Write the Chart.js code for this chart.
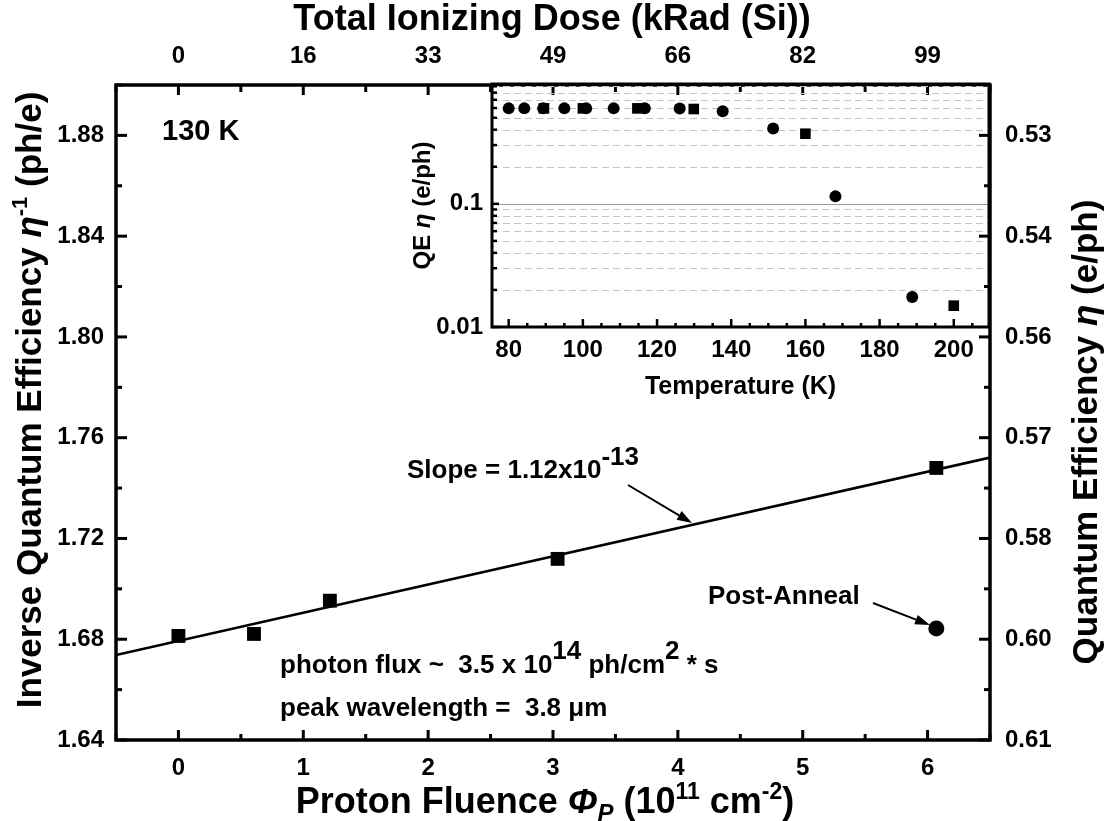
<!DOCTYPE html>
<html>
<head>
<meta charset="utf-8">
<script src="https://cdn.jsdelivr.net/npm/chart.js@4.4.0/dist/chart.umd.min.js"></script>
<style>
body { margin: 0; background: #fff; }
#wrap { position: relative; width: 1107px; height: 821px; }
#mainChart { position: absolute; left: 0; top: 0; }
#insetChart { position: absolute; left: 380px; top: 60px; }
</style>
</head>
<body>
<div id="wrap">
  <canvas id="mainChart" width="1107" height="821"></canvas>
  <canvas id="insetChart" width="620" height="360"></canvas>
</div>
<script>
// main plot: inverse QE vs proton fluence (1e11 cm^-2)
const fluence = [0, 0.605, 1.213, 3.037, 6.07];
const invQE = [1.6813, 1.6821, 1.6953, 1.7119, 1.748];
const annealFluence = [6.07];
const annealInvQE = [1.6843];
const fitFluence = [-0.5, 6.5];
const fitInvQE = [1.6737, 1.7521];
const doseLabels = ['0', '16', '33', '49', '66', '82', '99'];
const qeLabels = ['0.61', '0.60', '0.58', '0.57', '0.56', '0.54', '0.53'];

// inset: QE vs temperature
const tempCircle = [80, 84.2, 89.3, 95, 100.9, 108.3, 116.7, 126.1, 137.7, 151.3, 168.1, 188.8];
const qeCircle = [0.596, 0.596, 0.596, 0.596, 0.596, 0.596, 0.596, 0.594, 0.566, 0.409, 0.115, 0.0175];
const tempSquare = [89.5, 100, 114.7, 129.9, 160, 200];
const qeSquare = [0.596, 0.596, 0.596, 0.589, 0.371, 0.0149];

const FONT = "'Liberation Sans', Arial, Helvetica, sans-serif";
const B = (size, italic) => (italic ? 'italic ' : '') + 'bold ' + size + 'px ' + FONT;

const pts = (xs, ys) => xs.map((x, i) => ({ x: x, y: ys[i] }));
const near = (a, b) => Math.abs(a - b) < 1e-6;

// draw text made of pieces (font / raised or lowered parts)
function drawRich(ctx, parts, x, y, rot, align) {
  ctx.save();
  ctx.translate(x, y);
  ctx.rotate(rot || 0);
  ctx.fillStyle = '#000';
  ctx.textBaseline = 'alphabetic';
  ctx.textAlign = 'left';
  let total = 0;
  parts.forEach(p => { ctx.font = p[1]; total += ctx.measureText(p[0]).width; });
  let cx = align === 'left' ? 0 : -total / 2;
  parts.forEach(p => {
    ctx.font = p[1];
    ctx.fillText(p[0], cx, p[2] || 0);
    cx += ctx.measureText(p[0]).width;
  });
  ctx.restore();
}

function drawArrow(ctx, x1, y1, x2, y2) {
  const a = Math.atan2(y2 - y1, x2 - x1);
  const hl = 15, hw = 5;
  ctx.save();
  ctx.strokeStyle = '#000';
  ctx.fillStyle = '#000';
  ctx.lineWidth = 2;
  ctx.beginPath();
  ctx.moveTo(x1, y1);
  ctx.lineTo(x2 - Math.cos(a) * hl, y2 - Math.sin(a) * hl);
  ctx.stroke();
  ctx.beginPath();
  ctx.moveTo(x2, y2);
  ctx.lineTo(x2 - Math.cos(a) * hl + Math.sin(a) * hw, y2 - Math.sin(a) * hl - Math.cos(a) * hw);
  ctx.lineTo(x2 - Math.cos(a) * hl - Math.sin(a) * hw, y2 - Math.sin(a) * hl + Math.cos(a) * hw);
  ctx.closePath();
  ctx.fill();
  ctx.restore();
}

function tickLine(ctx, x1, y1, x2, y2, w) {
  ctx.lineWidth = w;
  ctx.beginPath();
  ctx.moveTo(x1, y1);
  ctx.lineTo(x2, y2);
  ctx.stroke();
}

// frame, inward ticks, titles and notes of the main plot
const mainDecor = {
  id: 'mainDecor',
  afterDraw(chart) {
    const ctx = chart.ctx;
    const a = chart.chartArea;
    const s = chart.scales;
    ctx.save();
    ctx.strokeStyle = '#000';
    ctx.lineCap = 'butt';

    s.x.ticks.forEach(t => {
      const px = s.x.getPixelForValue(t.value);
      const len = near(t.value, Math.round(t.value)) ? 10 : 6;
      tickLine(ctx, px, a.bottom, px, a.bottom - len, 3);
    });
    s.x2.ticks.forEach(t => {
      const px = s.x2.getPixelForValue(t.value);
      const len = near(t.value, Math.round(t.value)) ? 10 : 7;
      tickLine(ctx, px, a.top, px, a.top + len, 3);
    });
    s.y.ticks.forEach(t => {
      const py = s.y.getPixelForValue(t.value);
      const k = Math.round((t.value - 1.64) / 0.02);
      tickLine(ctx, a.left, py, a.left + (k % 2 === 0 ? 11 : 6), py, 3);
    });
    s.y2.ticks.forEach(t => {
      const py = s.y2.getPixelForValue(t.value);
      const k = Math.round((t.value - 1.64) / 0.02);
      tickLine(ctx, a.right, py, a.right - (k % 2 === 0 ? 11 : 6), py, 3);
    });

    ctx.lineWidth = 3.5;
    ctx.strokeRect(a.left, a.top, a.right - a.left, a.bottom - a.top);
    ctx.restore();

    // axis titles
    drawRich(ctx, [['Proton Fluence ', B(36)], ['\u03A6', B(36, true)], ['P', B(24, true), 8],
      [' (10', B(36)], ['11', B(23), -14], [' cm', B(36)], ['-2', B(23), -14], [')', B(36)]],
      545, 813);
    drawRich(ctx, [['Total Ionizing Dose (kRad (Si))', B(36)]], 552, 30);
    drawRich(ctx, [['Inverse Quantum Efficiency ', B(35)], ['\u03B7', B(35, true)], ['-1', B(22), -14],
      [' (ph/e)', B(35)]], 41, 400, -Math.PI / 2);
    drawRich(ctx, [['Quantum Efficiency ', B(35)], ['\u03B7', B(35, true)], [' (e/ph)', B(35)]],
      1097, 432, -Math.PI / 2);

    // notes
    drawRich(ctx, [['130 K', B(29)]], 162, 140, 0, 'left');
    drawRich(ctx, [['Slope = 1.12x10', B(26)], ['-13', B(26), -13]], 407, 478, 0, 'left');
    drawRich(ctx, [['photon flux ~  3.5 x 10', B(26)], ['14', B(26), -14], [' ph/cm', B(26)],
      ['2', B(26), -14], [' * s', B(26)]], 280, 673, 0, 'left');
    drawRich(ctx, [['peak wavelength =  3.8 \u03BCm', B(26)]], 280, 716, 0, 'left');
    drawRich(ctx, [['Post-Anneal', B(26)]], 708, 604, 0, 'left');
    drawArrow(ctx, 628, 485, 692, 523);
    drawArrow(ctx, 873, 603, 930, 625);
  }
};

const tickFont = { family: FONT, size: 24, weight: 'bold' };

new Chart(document.getElementById('mainChart'), {
  type: 'scatter',
  data: {
    datasets: [
      { label: 'fit', data: pts(fitFluence, fitInvQE), showLine: true, borderColor: '#000',
        borderWidth: 2.5, pointRadius: 0, xAxisID: 'x', yAxisID: 'y' },
      { label: '130 K', data: pts(fluence, invQE), pointStyle: 'rect', pointRadius: 9.8,
        backgroundColor: '#000', borderColor: '#000', borderWidth: 0, xAxisID: 'x', yAxisID: 'y' },
      { label: 'Post-Anneal', data: pts(annealFluence, annealInvQE), pointStyle: 'circle', pointRadius: 8,
        backgroundColor: '#000', borderColor: '#000', borderWidth: 0, xAxisID: 'x', yAxisID: 'y' }
    ]
  },
  options: {
    responsive: false,
    animation: false,
    layout: { padding: 0 },
    plugins: { legend: { display: false }, tooltip: { enabled: false } },
    scales: {
      x: {
        type: 'linear', position: 'bottom', min: -0.5, max: 6.5,
        grid: { display: false, drawTicks: false }, border: { display: false },
        ticks: { stepSize: 0.5, autoSkip: false, maxRotation: 0, padding: 14, color: '#000', font: tickFont,
          callback: v => near(v, Math.round(v)) ? String(Math.round(v)) : '' },
        afterFit: sc => { sc.height = 81; }
      },
      x2: {
        type: 'linear', position: 'top', min: -0.5, max: 6.5,
        grid: { display: false, drawTicks: false }, border: { display: false },
        ticks: { stepSize: 0.5, autoSkip: false, maxRotation: 0, padding: 14, color: '#000', font: tickFont,
          callback: v => {
            const i = Math.round(v);
            return near(v, i) && i >= 0 && i < doseLabels.length ? doseLabels[i] : '';
          } },
        afterFit: sc => { sc.height = 85; }
      },
      y: {
        type: 'linear', position: 'left', min: 1.64, max: 1.90,
        grid: { display: false, drawTicks: false }, border: { display: false },
        ticks: { stepSize: 0.02, autoSkip: false, padding: 12, color: '#000', font: tickFont,
          callback: v => Math.round((v - 1.64) / 0.02) % 2 === 0 ? v.toFixed(2) : '' },
        afterFit: sc => { sc.width = 116; }
      },
      y2: {
        type: 'linear', position: 'right', min: 1.64, max: 1.90,
        grid: { display: false, drawTicks: false }, border: { display: false },
        ticks: { stepSize: 0.02, autoSkip: false, padding: 15, color: '#000', font: tickFont,
          callback: v => {
            const k = Math.round((v - 1.64) / 0.02);
            return k % 2 === 0 && k / 2 < qeLabels.length ? qeLabels[k / 2] : '';
          } },
        afterFit: sc => { sc.width = 117; }
      }
    }
  },
  plugins: [mainDecor]
});

// inset decorations: log grid, frame, ticks, titles
const mantissa = v => v / Math.pow(10, Math.floor(Math.log10(v) + 1e-9));
const isDecade = v => near(Math.log10(v), Math.round(Math.log10(v)));

const insetDecor = {
  id: 'insetDecor',
  beforeDatasetsDraw(chart) {
    const ctx = chart.ctx;
    const a = chart.chartArea;
    const ys = chart.scales.y;
    ctx.save();
    ys.ticks.forEach(t => {
      const v = t.value;
      const m = mantissa(v);
      if (!near(m, Math.round(m)) || near(v, ys.min)) return;
      const py = Math.round(ys.getPixelForValue(v)) + 0.5;
      ctx.lineWidth = 1;
      if (isDecade(v)) {
        ctx.strokeStyle = '#9a9a9a';
        ctx.setLineDash([]);
      } else {
        ctx.strokeStyle = '#c4c4c4';
        ctx.setLineDash([7, 4]);
      }
      ctx.beginPath();
      ctx.moveTo(a.left, py);
      ctx.lineTo(a.right, py);
      ctx.stroke();
    });
    ctx.restore();
  },
  afterDraw(chart) {
    const ctx = chart.ctx;
    const a = chart.chartArea;
    const xs = chart.scales.x;
    const ys = chart.scales.y;
    ctx.save();
    ctx.strokeStyle = '#000';
    ctx.setLineDash([]);
    xs.ticks.forEach(t => {
      const v = t.value;
      if (!near(v % 5, 0)) return;
      const px = xs.getPixelForValue(v);
      tickLine(ctx, px, a.bottom, px, a.bottom - (near(v % 20, 0) ? 8 : 4), 2.5);
    });
    ys.ticks.forEach(t => {
      const v = t.value;
      const m = mantissa(v);
      if (!near(m, Math.round(m))) return;
      const py = ys.getPixelForValue(v);
      tickLine(ctx, a.left, py, a.left + (isDecade(v) ? 7 : 5), py, 2.5);
    });
    ctx.lineWidth = 3;
    ctx.strokeRect(a.left, a.top, a.right - a.left, a.bottom - a.top);
    ctx.restore();

    drawRich(ctx, [['Temperature (K)', B(25)]], (a.left + a.right) / 2, 334);
    drawRich(ctx, [['QE ', B(24)], ['\u03B7', B(24, true)], [' (e/ph)', B(24)]],
      50, (a.top + a.bottom) / 2, -Math.PI / 2);
  }
};

const insetFont = { family: FONT, size: 24, weight: 'bold' };

new Chart(document.getElementById('insetChart'), {
  type: 'scatter',
  data: {
    datasets: [
      { label: 'circles', data: pts(tempCircle, qeCircle), pointStyle: 'circle', pointRadius: 6,
        backgroundColor: '#000', borderColor: '#000', borderWidth: 0 },
      { label: 'squares', data: pts(tempSquare, qeSquare), pointStyle: 'rect', pointRadius: 7.5,
        backgroundColor: '#000', borderColor: '#000', borderWidth: 0 }
    ]
  },
  options: {
    responsive: false,
    animation: false,
    layout: { padding: { top: 24, right: 11, left: 0, bottom: 0 } },
    plugins: { legend: { display: false }, tooltip: { enabled: false } },
    scales: {
      x: {
        type: 'linear', position: 'bottom', min: 75.5, max: 209.5,
        grid: { display: false, drawTicks: false }, border: { display: false },
        ticks: { stepSize: 5, includeBounds: false, autoSkip: false, maxRotation: 0, padding: 9,
          color: '#000', font: insetFont,
          callback: v => near(v % 20, 0) ? String(v) : '' },
        afterFit: sc => { sc.height = 93; }
      },
      y: {
        type: 'logarithmic', position: 'left', min: 0.01, max: 0.94,
        grid: { display: false, drawTicks: false }, border: { display: false },
        ticks: { autoSkip: false, padding: 9, color: '#000', font: insetFont,
          callback: v => isDecade(v) ? String(Number(v.toPrecision(2))) : '' },
        afterFit: sc => { sc.width = 112; }
      }
    }
  },
  plugins: [insetDecor]
});
</script>
</body>
</html>
